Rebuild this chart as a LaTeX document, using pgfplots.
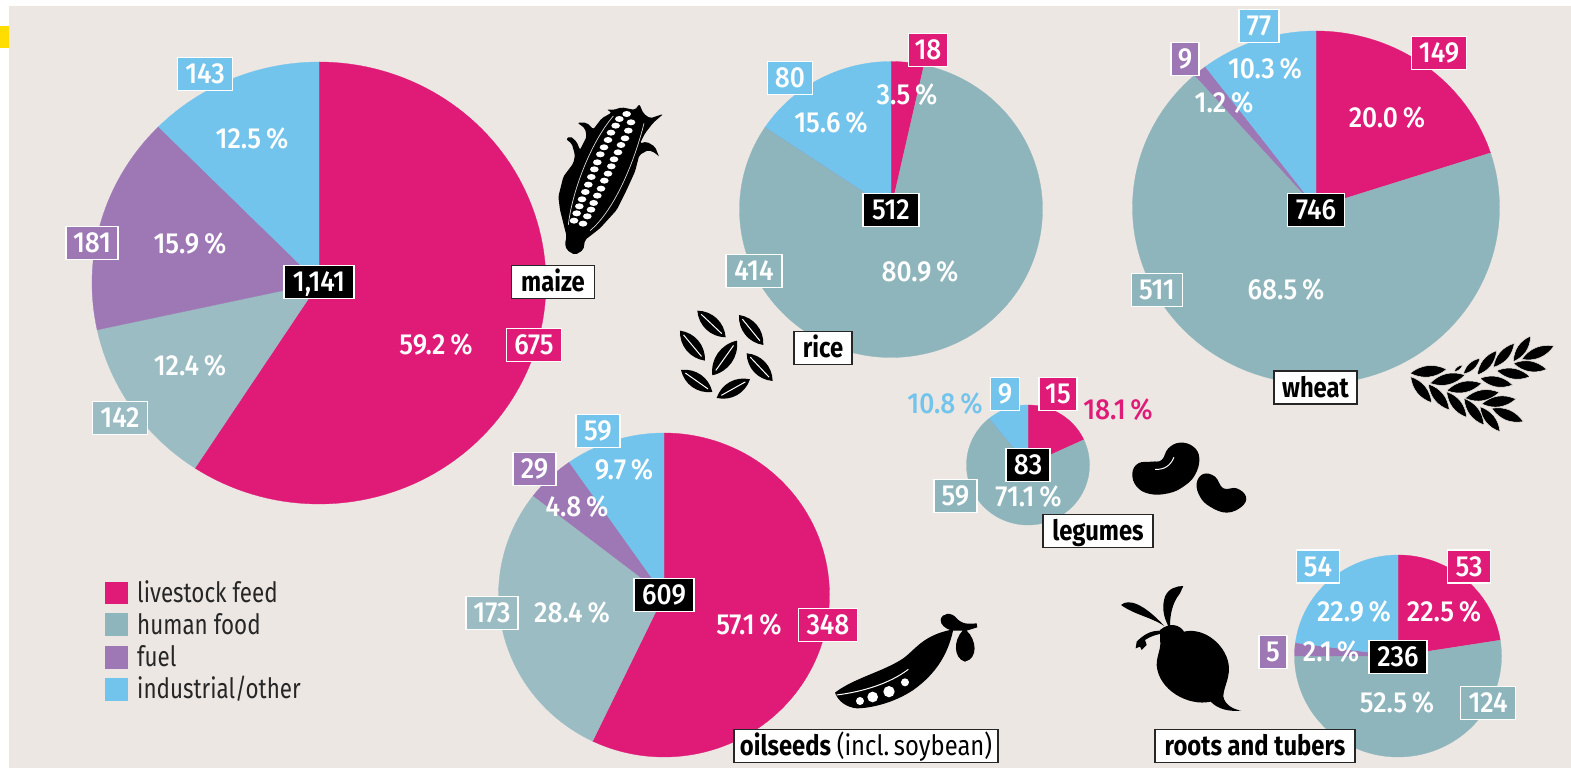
\documentclass[border=0pt]{standalone}
\usepackage{pgfplots}
\pgfplotsset{compat=1.18}
\usepackage{fontspec}
\usetikzlibrary{calc}
\setmainfont[FakeStretch=0.85]{Fira Sans}
\newfontfamily\legfont[FakeStretch=0.80]{Fira Sans}
\newfontfamily\medf[FakeStretch=0.91]{Fira Sans Medium}
\definecolor{bgc}{RGB}{236,231,227}
\definecolor{feed}{RGB}{224,27,119}
\definecolor{food}{RGB}{143,181,188}
\definecolor{foodl}{RGB}{155,188,195}
\definecolor{fuel}{RGB}{157,120,181}
\definecolor{indu}{RGB}{115,196,236}
\definecolor{yel}{RGB}{255,221,0}
\newcommand\numf{\medf\fontsize{29}{32}\selectfont}
\newcommand\namf{\fontsize{28}{32}\selectfont\bfseries}
\pgfplotsset{base/.style={hide axis,scale only axis,at={(0pt,0pt)},anchor=south west,width=1571pt,height=768pt,xmin=0,xmax=1571,ymin=0,ymax=768,y dir=reverse,clip=false}}
% one slice: colour, share from, share to (percent, clockwise from the top)
\newcommand\slice[3]{%
  \pgfmathsetmacro\angS{90-3.6*#2}\pgfmathsetmacro\angE{90-3.6*#3}%
  \pgfmathtruncatemacro\nst{max(1,ceil((\angS-\angE)/2))}%
  \gdef\cds{(0,0)}%
  \foreach \i in {0,...,\nst}{\pgfmathsetmacro\ang{\angS+(\angE-\angS)*(\i/\nst)}\xdef\cds{\cds (\ang,1)}}%
  \edef\tmp{\noexpand\addplot[fill=#1,draw=#1,line width=0.3pt,data cs=polar] coordinates {\cds (0,0)};}\tmp}
% pie: cx cy rx ry teal share1 share2 share3 share4
\newcommand\pie[9]{%
  \begin{axis}[hide axis,scale only axis,at={(#1pt,768pt-#2pt)},anchor=center,width=2*#3pt,height=2*#4pt,xmin=-1,xmax=1,ymin=-1,ymax=1,clip=false]
  \pgfmathsetmacro\pA{#6}\pgfmathsetmacro\pB{#6+#7}\pgfmathsetmacro\pC{#6+#7+#8}
  \slice{feed}{0}{\pA}
  \slice{#5}{\pA}{\pB}
  \slice{fuel}{\pB}{\pC}
  \slice{indu}{\pC}{100}
  \end{axis}}
\newcommand\lab[5]{\node[fill=#3,draw=white,line width=1.2pt,text=white,font=\numf,minimum height=33pt,minimum width=#4pt,inner sep=0pt,text height=19pt,text depth=0pt] at (axis cs:#1,#2) {#5};}
\newcommand\blk[4]{\node[fill=black,draw=white,line width=1.2pt,text=white,font=\numf,minimum height=33pt,minimum width=#3pt,inner sep=0pt,text height=19pt,text depth=0pt] at (axis cs:#1,#2) {#4};}
\newcommand\nam[4]{\node[fill=white,draw=black!85,line width=1.6pt,text=black,font=\namf,minimum height=33pt,minimum width=#3pt,inner sep=0pt,text height=19pt,text depth=0pt] at (axis cs:#1,#2) {#4};}
\newcommand\pct[3]{\node[text=white,font=\numf,inner sep=0pt,text height=19pt,text depth=0pt] at (axis cs:#1,#2) {#3\,\%};}
\newcommand\lens[5][40]{\fill[black] (#2,#3) to[bend left=#1] (#4,#5) to[bend left=#1] (#2,#3);}
\newcommand\wg[4]{\filldraw[fill=black,draw=bgc,line width=.5pt] (#1,#2) to[bend left=32] (#3,#4) to[bend left=32] (#1,#2);}
\newcommand\grain[4]{\lens[42]{#1}{#2}{#3}{#4}\draw[white,line width=1pt] ($(#1,#2)!.14!(#3,#4)$) -- ($(#1,#2)!.86!(#3,#4)$);}
\begin{document}
\begin{tikzpicture}
\path[use as bounding box,fill=white] (0pt,0pt) rectangle (1571pt,768pt);
\begin{axis}[base]
\addplot[fill=bgc,draw=none] coordinates {(9,6)(1571,6)(1571,768)(9,768)} -- cycle;
\addplot[fill=yel,draw=none] coordinates {(0,26)(9,26)(9,48)(0,48)} -- cycle;
\addplot[fill=feed,draw=none] coordinates {(105,582)(128,582)(128,604)(105,604)} -- cycle;
\addplot[fill=food,draw=none] coordinates {(105,613)(128,613)(128,636)(105,636)} -- cycle;
\addplot[fill=fuel,draw=none] coordinates {(105,646)(128,646)(128,669)(105,669)} -- cycle;
\addplot[fill=indu,draw=none] coordinates {(105,678)(128,678)(128,701)(105,701)} -- cycle;
\end{axis}
\pie{319}{283}{227}{221}{foodl}{59.2}{12.4}{15.9}{12.5}
\pie{891}{209.5}{151.5}{148}{food}{3.5}{80.9}{0}{15.6}
\pie{1316}{207.5}{183.5}{176.5}{food}{20.0}{68.5}{1.2}{10.3}
\pie{1028}{465}{61.5}{60}{food}{18.1}{71.1}{0}{10.8}
\pie{664}{595}{165.5}{162}{foodl}{57.1}{28.4}{4.8}{9.7}
\pie{1398}{656}{103.5}{101}{food}{22.5}{52.5}{2.1}{22.9}
\begin{axis}[base]
% maize
\lab{205}{74}{indu}{55}{143}\lab{92}{243}{fuel}{52}{181}\lab{534}{345}{feed}{55}{675}\lab{120}{418}{foodl}{55}{142}
\blk{319}{282}{70}{1,141}\nam{553}{282}{83}{maize}
\pct{252}{139}{12.5}\pct{190}{244}{15.9}\pct{436}{345}{59.2}\pct{190}{366}{12.4}
% rice
\lab{928}{50}{feed}{39}{18}\lab{790}{78}{indu}{45}{80}\lab{754}{271}{food}{56}{414}
\blk{891}{210}{56}{512}\nam{823}{348}{58}{rice}
\pct{907}{95}{3.5}\pct{831}{123}{15.6}\pct{920}{272}{80.9}
% wheat
\lab{1259}{26}{indu}{40}{77}\lab{1185}{59}{fuel}{28}{9}\lab{1439}{53}{feed}{55}{149}\lab{1157}{290}{food}{51}{511}
\blk{1316}{210}{57}{746}\nam{1315.5}{387.5}{83}{wheat}
\pct{1265}{69}{10.3}\pct{1224}{103}{1.2}\pct{1387}{118}{20.0}\pct{1286}{290}{68.5}
% legumes
\lab{1005}{394}{indu}{29}{9}\lab{1058}{394}{feed}{38}{15}\lab{955.5}{496}{food}{43}{59}
\blk{1028}{465}{44}{83}\nam{1098}{531}{110}{legumes}
\pct{1028.5}{497}{71.1}
\node[text=indu,font=\numf,inner sep=0pt,text height=19pt,text depth=0pt] at (axis cs:945,403.5) {10.8\,\%};
\node[text=feed,font=\numf,inner sep=0pt,text height=19pt,text depth=0pt] at (axis cs:1118,410) {18.1\,\%};
% oilseeds
\lab{598}{431}{indu}{44}{59}\lab{534.5}{469}{fuel}{43}{29}\lab{492}{613}{foodl}{52}{173}\lab{828}{625}{feed}{59}{348}
\blk{664}{595}{60}{609}
\nam{866}{746}{264}{oilseeds {\mdseries (incl.\,soybean)}}
\pct{624}{470}{9.7}\pct{577}{507}{4.8}\pct{572}{613}{28.4}\pct{749}{625}{57.1}
% roots
\lab{1318}{566.5}{indu}{43}{54}\lab{1469}{566.5}{feed}{43}{53}\lab{1273}{652}{fuel}{28}{5}\lab{1488}{703}{food}{55}{124}
\blk{1398}{657}{58}{236}\nam{1255}{746}{200}{roots and tubers}
\pct{1354}{612}{22.9}\pct{1444}{612}{22.5}\pct{1331}{652}{2.1}\pct{1397}{703}{52.5}
% legend text
\node[anchor=base west,inner sep=0pt,font=\legfont\fontsize{28}{30}\selectfont,text=black!85] at (axis cs:137,602) {livestock feed};
\node[anchor=base west,inner sep=0pt,font=\legfont\fontsize{28}{30}\selectfont,text=black!85] at (axis cs:137,634) {human food};
\node[anchor=base west,inner sep=0pt,font=\legfont\fontsize{28}{30}\selectfont,text=black!85] at (axis cs:137,666) {fuel};
\node[anchor=base west,inner sep=0pt,font=\legfont\fontsize{28}{30}\selectfont,text=black!85] at (axis cs:137,698) {industrial/other};
\end{axis}
% ---- icons (pictures, not data) ----
% maize
\begin{scope}[x=.3333pt,y=-.3333pt,shift={(550pt,668pt)}]
\fill[black,rounded corners=2pt] (45,430)--(50,410)--(30,330)--(25,290)--(40,230)--(70,190)--(75,165)--(65,130)--(48,118)--(60,108)--(80,125)--(90,150)--(110,110)--(105,85)--(82,68)--(110,68)--(130,88)--(155,55)--(185,38)--(170,28)--(190,30)--(215,22)--(255,30)--(268,12)--(280,40)--(300,55)--(340,42)--(310,68)--(285,100)--(270,130)--(290,125)--(315,140)--(328,172)--(318,160)--(295,150)--(268,165)--(255,215)--(230,270)--(200,330)--(150,385)--(105,420)--(100,450)--(75,465)--(50,450)--cycle;
\foreach \kx/\ky in {230/42,208/57,197/77,183/98,174/120,162/142,151/163,142/187,133/208,124/231,115/254,106/276,96/298,88/319,80/340,72/362,243/67,235/92,225/115,213/135,204/157,192/178,184/199,174/221,163/242,153/266,142/287,131/309,123/329,112/349,99/371}
  \fill[white] (\kx,\ky) ellipse[x radius=13,y radius=9];
\draw[white!85!black,line width=.7pt] (55,375) .. controls (65,280) and (120,130) .. (190,48);
\draw[white!85!black,line width=.7pt] (120,392) .. controls (195,330) and (255,180) .. (282,70);
\end{scope}
% rice
\begin{scope}[x=.3333pt,y=-.3333pt,shift={(520pt,678pt)}]
\grain{532}{662}{617}{742}\grain{657}{675}{730}{765}\grain{480}{722}{555}{812}\grain{651}{752}{577}{856}
\grain{680}{790}{758}{873}\grain{483}{840}{577}{906}\grain{590}{924}{690}{868}
\end{scope}
% wheat
\begin{scope}[x=.3333pt,y=-.3333pt,shift={(1400pt,438pt)}]
\wg{392}{18}{340}{95}\wg{462}{48}{365}{88}\wg{440}{118}{340}{100}\wg{343}{40}{280}{112}\wg{290}{62}{232}{135}\wg{240}{85}{190}{132}\wg{188}{105}{162}{125}
\wg{390}{140}{290}{122}\wg{338}{165}{240}{145}
\wg{30}{130}{140}{118}\wg{195}{135}{90}{160}\wg{245}{160}{140}{182}\wg{298}{187}{195}{205}\wg{348}{207}{245}{222}\wg{370}{275}{275}{235}
\wg{32}{140}{95}{218}\wg{85}{162}{148}{240}\wg{140}{185}{200}{262}\wg{192}{205}{252}{285}\wg{240}{230}{300}{305}
\end{scope}
% beans
\begin{scope}[x=.3333pt,y=-.3333pt,shift={(1100pt,448pt)}]
\fill[black] plot[smooth cycle,tension=.7] coordinates {(97,460)(115,430)(155,425)(185,420)(205,385)(240,368)(280,380)(298,415)(285,465)(250,500)(205,520)(150,522)(110,500)};
\draw[white,line width=1pt] (165,448) .. controls (195,450) and (212,435) .. (222,412);
\fill[black] plot[smooth cycle,tension=.7] coordinates {(290,490)(310,462)(345,470)(370,505)(410,505)(438,530)(425,560)(380,578)(330,560)(300,530)};
\end{scope}
% beet
\begin{scope}[x=.3333pt,y=-.3333pt,shift={(1115pt,188pt)}]
\fill[black] (135,150) .. controls (165,125) and (195,135) .. (207,155) .. controls (270,140) and (340,200) .. (342,265) .. controls (342,300) and (325,325) .. (325,350) .. controls (330,375) and (355,388) .. (378,392) .. controls (340,395) and (310,388) .. (287,365) .. controls (220,380) and (130,330) .. (125,255) .. controls (125,225) and (140,205) .. (135,180) -- cycle;
\fill[black] (18,75) .. controls (40,55) and (85,70) .. (148,138) .. controls (105,110) and (60,105) .. (18,75) -- cycle;
\fill[black] (160,138) .. controls (145,110) and (140,80) .. (150,50) .. controls (160,25) and (185,18) .. (205,18) -- (195,40) .. controls (170,70) and (165,110) .. (165,138) -- cycle;
\fill[black] (135,152) .. controls (105,152) and (85,165) .. (65,185) -- (62,205) -- (75,200) -- (80,210) -- (95,195) -- (90,180) .. controls (105,170) and (120,165) .. (135,162) -- cycle;
\end{scope}
% pea pod
\begin{scope}[x=.3333pt,y=-.3333pt,shift={(780pt,178pt)}]
\fill[black] (165,308) .. controls (220,265) and (310,245) .. (370,205) .. controls (410,175) and (430,135) .. (520,118) .. controls (505,190) and (470,250) .. (400,300) .. controls (340,340) and (270,355) .. (230,355) .. controls (200,352) and (175,335) .. (165,308) -- cycle;
\draw[white,line width=1pt] (170,315) .. controls (250,305) and (330,280) .. (385,238);
\fill[white] (240,333) circle (12) (278,321) circle (16) (327,305) circle (17) (375,277) circle (12);
\fill[black] (482,90) .. controls (485,68) and (515,65) .. (530,85) .. controls (540,95) and (550,105) .. (590,100) -- (592,112) -- (560,122) .. controls (590,150) and (595,205) .. (555,215) .. controls (520,205) and (520,150) .. (548,122) -- (515,122) .. controls (495,115) and (482,105) .. (482,90) -- cycle;
\end{scope}
\end{tikzpicture}
\end{document}
